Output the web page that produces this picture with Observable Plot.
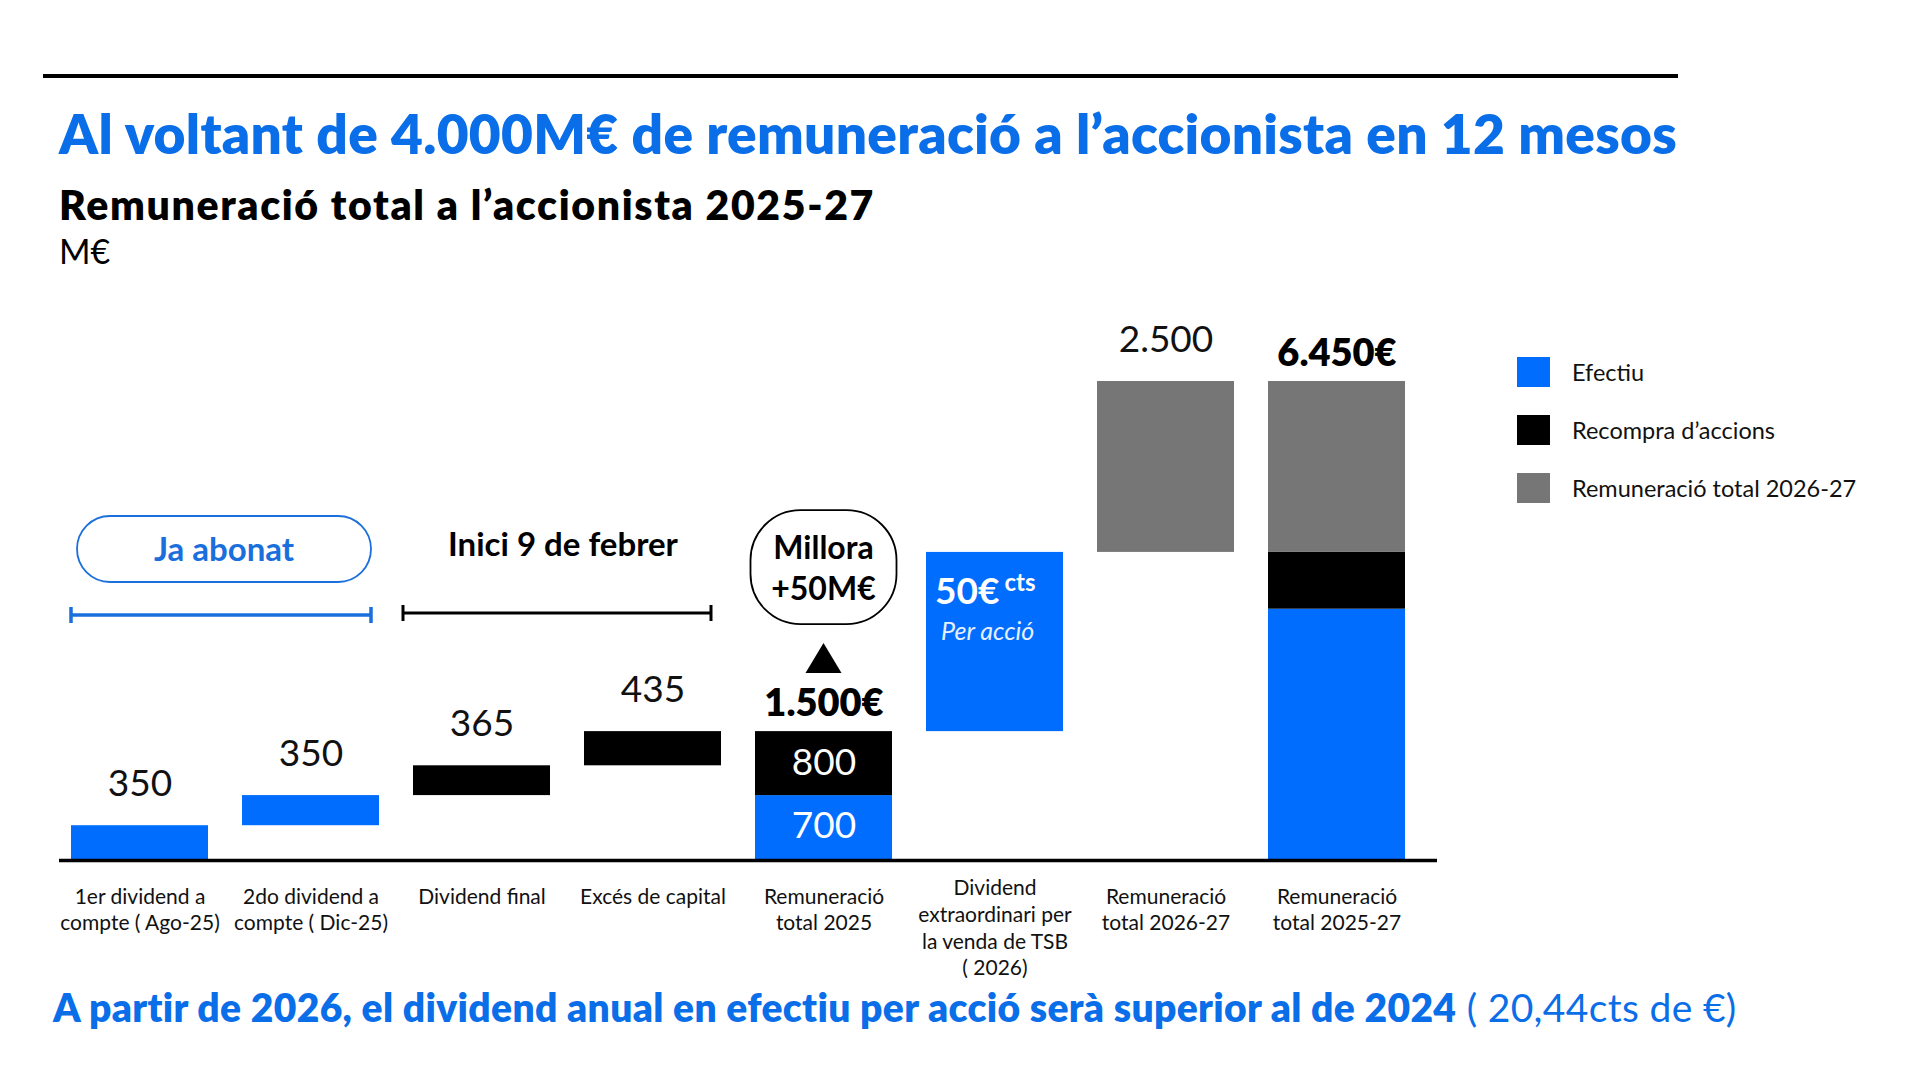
<!DOCTYPE html>
<html>
<head>
<meta charset="utf-8">
<script src="https://cdn.jsdelivr.net/npm/d3@7"></script>
<script src="https://cdn.jsdelivr.net/npm/@observablehq/plot@0.6"></script>
<style>
  html, body { margin: 0; padding: 0; background: #fff; }
  body { width: 1920px; height: 1080px; position: relative; overflow: hidden; font-family: Lato, "Open Sans", sans-serif; }
  .abs { position: absolute; white-space: nowrap; line-height: 1; }
  #toprule { position: absolute; left: 43px; top: 74px; width: 1635px; height: 4px; background: #000; }
  #title { left: 59px; top: 106px; font-size: 55px; font-weight: 800; color: #0a6ee8; }
  #subtitle { left: 59px; top: 184px; font-size: 41px; font-weight: 800; color: #000; }
  #unit { left: 59px; top: 234px; font-size: 34px; color: #000; }
  #footer { left: 53px; top: 988px; font-size: 39px; color: #0a6ee8; }
  #footer b { font-weight: 800; }
  #chart { position: absolute; left: 0; top: 280px; }
  #legend { position: absolute; left: 1517px; top: 357px; }
  .item { position: absolute; left: 0; height: 30px; display: flex; align-items: center; white-space: nowrap; font-size: 23.5px; color: #111; }
  .sw { width: 33px; height: 30px; margin-right: 22px; flex: none; }
</style>
</head>
<body>
<div id="toprule"></div>
<div id="title" class="abs">Al voltant de 4.000M€ de remuneració a l’accionista en 12 mesos</div>
<div id="subtitle" class="abs">Remuneració total a l’accionista 2025-27</div>
<div id="unit" class="abs">M€</div>
<div id="chart"></div>
<div id="legend"></div>
<div id="footer" class="abs"><b>A partir de 2026, el dividend anual en efectiu per acció serà superior al de 2024</b> ( 20,44cts de €)</div>
<script>
// ---------- DATA ----------
const steps = ["div1", "div2", "final", "exces", "tot25", "tsb", "tot2627", "tot2527"];
const stepLabels = [
  "1er dividend a\ncompte ( Ago-25)",
  "2do dividend a\ncompte ( Dic-25)",
  "Dividend final",
  "Excés de capital",
  "Remuneració\ntotal 2025",
  "Dividend\nextraordinari per\nla venda de TSB\n( 2026)",
  "Remuneració\ntotal 2026-27",
  "Remuneració\ntotal 2025-27"
];
// true = bar starts from zero (a total); false = floats on the running sum
const isTotal = [false, false, false, false, true, false, false, true];
const series = ["Efectiu", "Recompra d’accions", "Remuneració total 2026-27"];
const seriesColors = ["#006dff", "#000000", "#767676"];
const efectiu   = [350, 350, 0,   0,   700, 2450, 0,    3150];
const recompra  = [0,   0,   365, 435, 800, 0,    0,    800];
const total2627 = [0,   0,   0,   0,   0,   0,    2500, 2500];
// how the value above each bar is shown
const topLabelMode = ["plain", "plain", "plain", "plain", "total", "none", "plain", "total"];
const innerLabelStep = "tot25";
const tsbStep = "tsb";
const tsbPerShare = "50€", tsbUnit = "cts", tsbNote = "Per acció";
const bubbleLines = ["Millora", "+50M€"];
const paidLabel = "Ja abonat";
const startLabel = "Inici 9 de febrer";
const paidSteps = ["div1", "div2"];
const startSteps = ["final", "exces"];

// ---------- BUILD ----------
const fmt = d3.formatLocale({decimal: ",", thousands: ".", grouping: [3], currency: ["", "€"]}).format(",");
let running = 0;
const segments = [], tops = [];
steps.forEach((s, i) => {
  const base = isTotal[i] ? 0 : running;
  const vals = [efectiu[i], recompra[i], total2627[i]];
  let y = base;
  vals.forEach((v, k) => {
    if (v > 0) { segments.push({step: s, series: series[k], y1: y, y2: y + v, value: v}); y += v; }
  });
  tops.push({step: s, top: y, total: y - base, mode: topLabelMode[i]});
  if (!isTotal[i]) running = y;
});
const labelRows = steps.map((s, i) => ({step: s, label: stepLabels[i]}));

const chart = Plot.plot({
  width: 1920, height: 710,
  marginLeft: 59, marginRight: 483, marginTop: 101, marginBottom: 130,
  style: {fontFamily: "Lato, sans-serif", background: "transparent", overflow: "visible"},
  x: {domain: steps, axis: null, paddingInner: 0.2, paddingOuter: 0.1136, align: 0.28},
  y: {type: "pow", exponent: 0.9, domain: [0, d3.max(tops, d => d.top)], axis: null},
  color: {domain: series, range: seriesColors},
  marks: [
    Plot.barY(segments, {x: "step", y1: "y1", y2: "y2", fill: "series"}),
    Plot.ruleY([0], {stroke: "#000", strokeWidth: 3.5}),
    Plot.text(tops.filter(d => d.mode === "plain"), {
      x: "step", y: "top", text: d => fmt(d.total), lineAnchor: "bottom", dy: -30,
      fontSize: 37, fill: "#111"
    }),
    Plot.text(tops.filter(d => d.mode === "total"), {
      x: "step", y: "top", text: d => fmt(d.total) + "€", lineAnchor: "bottom", dy: -16,
      fontSize: 38, fontWeight: 800, fill: "#000"
    }),
    Plot.text(segments.filter(d => d.step === innerLabelStep), {
      x: "step", y: d => (d.y1 + d.y2) / 2, text: d => fmt(d.value), lineAnchor: "middle",
      fontSize: 37, fill: "#fff"
    }),
    Plot.text(labelRows.filter(d => d.step !== tsbStep), {
      x: "step", y: d => 0, text: "label", lineAnchor: "top", dy: 25,
      fontSize: 21, lineHeight: 1.24, fill: "#111"
    }),
    Plot.text(labelRows.filter(d => d.step === tsbStep), {
      x: "step", y: d => 0, text: "label", lineAnchor: "top", dy: 16,
      fontSize: 21, lineHeight: 1.27, fill: "#111"
    })
  ]
});
document.getElementById("chart").appendChild(chart);

// ---------- ANNOTATIONS (positioned with the chart's own scales) ----------
const sx = chart.scale("x"), sy = chart.scale("y");
const bw = sx.bandwidth;
const L = s => sx.apply(s), R = s => sx.apply(s) + bw, C = s => sx.apply(s) + bw / 2;
const y0 = sy.apply(0);
const topOf = s => sy.apply(tops.find(d => d.step === s).top);
const g = d3.select(chart).append("g").attr("font-family", "Lato, sans-serif").attr("text-anchor", "start");

// "Ja abonat" pill + blue bracket
const blue = "#1a6fdc";
const px1 = L(paidSteps[0]) + 6, px2 = R(paidSteps[1]) - 8;
g.append("rect").attr("x", px1).attr("y", y0 - 344).attr("width", px2 - px1).attr("height", 66)
  .attr("rx", 33).attr("fill", "#fff").attr("stroke", blue).attr("stroke-width", 1.8);
g.append("text").attr("x", (px1 + px2) / 2).attr("y", y0 - 311).attr("dy", "0.35em")
  .attr("text-anchor", "middle").attr("font-size", 33).attr("font-weight", 700).attr("fill", blue).text(paidLabel);
function bracket(x1, x2, y, color, w) {
  g.append("line").attr("x1", x1).attr("x2", x2).attr("y1", y).attr("y2", y).attr("stroke", color).attr("stroke-width", w);
  [x1, x2].forEach(x => g.append("line").attr("x1", x).attr("x2", x).attr("y1", y - 8).attr("y2", y + 8)
    .attr("stroke", color).attr("stroke-width", w));
}
bracket(L(paidSteps[0]), R(paidSteps[1]) - 8, y0 - 245, blue, 3.5);

// "Inici 9 de febrer" + black bracket
const bx1 = L(startSteps[0]) - 10, bx2 = R(startSteps[1]) - 10;
bracket(bx1, bx2, y0 - 247, "#000", 3);
g.append("text").attr("x", (bx1 + bx2) / 2 + 6).attr("y", y0 - 304)
  .attr("text-anchor", "middle").attr("font-size", 33).attr("font-weight", 700).attr("fill", "#000").text(startLabel);

// "Millora +50M€" bubble and triangle above 2025 total
const cx = C(innerLabelStep), t25 = topOf(innerLabelStep);
g.append("rect").attr("x", cx - 73).attr("y", t25 - 221).attr("width", 146).attr("height", 114)
  .attr("rx", 50).attr("fill", "#fff").attr("stroke", "#000").attr("stroke-width", 1.8);
bubbleLines.forEach((t, i) => g.append("text").attr("x", cx).attr("y", t25 - 172 + i * 41)
  .attr("text-anchor", "middle").attr("font-size", 32).attr("font-weight", 700).attr("fill", "#000").text(t));
g.append("path").attr("d", `M${cx - 18},${t25 - 58}L${cx + 18},${t25 - 58}L${cx},${t25 - 88}Z`).attr("fill", "#000");

// TSB per-share text inside bar
const tl = L(tsbStep), tt = topOf(tsbStep);
const t1 = g.append("text").attr("x", tl + 9).attr("y", tt + 52).attr("text-anchor", "start")
  .attr("fill", "#fff").attr("font-weight", 700);
t1.append("tspan").attr("font-size", 37).text(tsbPerShare);
t1.append("tspan").attr("font-size", 24).attr("dx", 5).attr("dy", -13).text(tsbUnit);
g.append("text").attr("x", tl + 15).attr("y", tt + 88).attr("text-anchor", "start")
  .attr("fill", "#e6f0ff").attr("font-style", "italic").attr("font-size", 25).text(tsbNote);

// ---------- LEGEND ----------
const legend = d3.select("#legend");
series.forEach((s, i) => {
  const it = legend.append("div").attr("class", "item").style("top", (i * 58) + "px");
  it.append("div").attr("class", "sw").style("background", seriesColors[i]);
  it.append("span").text(s);
});

// ---------- fit heading widths to the reference ----------
function fit(id, target) {
  const el = document.getElementById(id);
  el.style.letterSpacing = "0px";
  const w = el.getBoundingClientRect().width;
  const n = el.textContent.length;
  el.style.letterSpacing = ((target - w) / n) + "px";
}
const doFit = () => { fit("title", 1618); fit("subtitle", 816); fit("footer", 1685); };
doFit();
if (document.fonts && document.fonts.ready) document.fonts.ready.then(doFit);
</script>
</body>
</html>
